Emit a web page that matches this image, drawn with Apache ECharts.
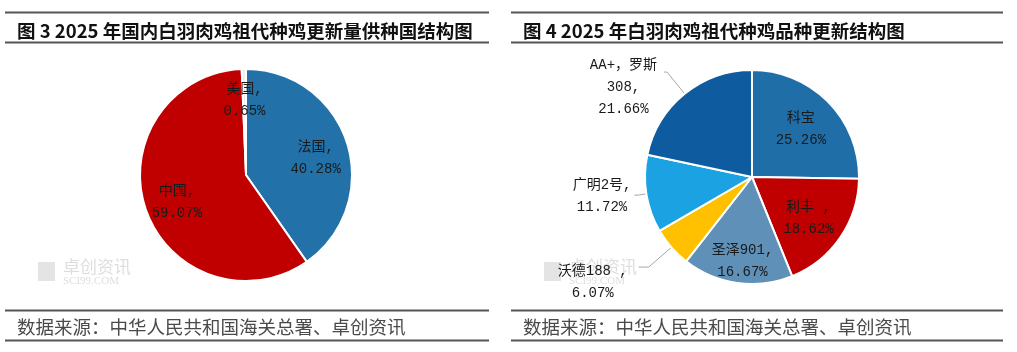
<!DOCTYPE html>
<html><head><meta charset="utf-8">
<script src="https://cdn.jsdelivr.net/npm/echarts@6/dist/echarts.min.js"></script>
<style>html,body{margin:0;padding:0;background:#fff}#c{width:1017px;height:352px}</style>
</head><body><div id="c"></div>
<script>
// ---- data ----
const leftTitle = '图 3 2025 年国内白羽肉鸡祖代种鸡更新量供种国结构图';
const rightTitle = '图 4 2025 年白羽肉鸡祖代种鸡品种更新结构图';
const sourceText = '数据来源：中华人民共和国海关总署、卓创资讯';
const countryNames = ['法国', '中国', '美国'];
const countryShares = [40.28, 59.07, 0.65];
const breedNames = ['科宝', '利丰', '圣泽901', '沃德188', '广明2号', 'AA+，罗斯308'];
const breedLabelNames = ['科宝', '利丰 ,', '圣泽901,', '沃德188 ,', '广明2号,', 'AA+，罗斯\n308,'];
const breedShares = [25.26, 18.62, 16.67, 6.07, 11.72, 21.66];

// ---- styles ----
const FONT = '"Noto Sans CJK SC", "Noto Sans", sans-serif';
const LFONT = '"Liberation Mono", "Noto Sans CJK SC", monospace';
const countryColors = ['#2271a9', '#c00000', '#eeeeee'];
const breedColors = ['#1f6ea8', '#c00000', '#5e90b8', '#ffc000', '#1ba2e2', '#0e5c9f'];
const breedOutside = [false, false, false, true, true, true];
const breedLineLen = [0, 0, 0, 30, 8, 28];
const breedLineLen2 = [0, 0, 0, 10, 4, 3];
const breedOuterDx = [0, 0, 0, -8, 0, -4];
const breedOuterDy = [0, 0, 0, 4, -10, -7];
const breedInnerDy = [0, 3, 16, 0, 0, 0];
const countryInnerDy = [5, 4, -2];
const lineColor = '#555';

const chart = echarts.init(document.getElementById('c'), null, {renderer: 'canvas'});
const pct = v => v.toFixed(2) + '%';

function headerGraphics(x0, x1, title) {
  return [
    {type: 'rect', shape: {x: x0, y: 11.5, width: x1 - x0, height: 2}, style: {fill: lineColor}, silent: true},
    {type: 'rect', shape: {x: x0, y: 41.5, width: x1 - x0, height: 2}, style: {fill: lineColor}, silent: true},
    {type: 'text', x: x0 + 12, y: 31, style: {text: title, font: 'bold 18.5px ' + FONT, fill: '#111', textVerticalAlign: 'middle'}, silent: true},
    {type: 'rect', shape: {x: x0, y: 309.5, width: x1 - x0, height: 2}, style: {fill: lineColor}, silent: true},
    {type: 'rect', shape: {x: x0, y: 339.5, width: x1 - x0, height: 2}, style: {fill: lineColor}, silent: true},
    {type: 'text', x: x0 + 12, y: 327, style: {text: sourceText, font: '18.5px ' + FONT, fill: '#4a4a4a', textVerticalAlign: 'middle'}, silent: true},
    {type: 'text', x: x0 + 58, y: 267, style: {text: '卓创资讯', font: '17px ' + FONT, fill: '#dedede', textVerticalAlign: 'middle'}, silent: true},
    {type: 'text', x: x0 + 58, y: 281, style: {text: 'SCI99.COM', font: '11px "Liberation Serif", serif', fill: '#dedede', textVerticalAlign: 'middle'}, silent: true},
    {type: 'rect', shape: {x: x0 + 33, y: 262, width: 17, height: 19}, style: {fill: '#e4e4e4'}, silent: true}
  ];
}

const labelStyle = {color: '#1a1a1a', fontSize: 14, lineHeight: 22, fontFamily: LFONT};

const leftData = countryNames.map((n, i) => ({name: n, value: countryShares[i]}));
const rightData = breedNames.map((n, i) => ({
  name: n, value: breedShares[i],
  label: {show: breedOutside[i]},
  labelLine: {show: breedOutside[i], length: breedLineLen[i], length2: breedLineLen2[i]}
}));
const rightInner = breedNames.map((n, i) => ({
  name: n, value: breedShares[i],
  label: {show: !breedOutside[i]}
}));

const option = {
  animation: false,
  graphic: [...headerGraphics(5, 489, leftTitle), ...headerGraphics(511, 1003, rightTitle)],
  series: [
    {
      type: 'pie', center: [246, 175], radius: [0, 106], startAngle: 90, clockwise: true,
      color: countryColors, data: leftData, silent: true, z: 2,
      itemStyle: {borderColor: '#fff', borderWidth: 2},
      label: {show: false}, labelLine: {show: false}
    },
    {
      type: 'pie', center: [246, 175], radius: [34, 106], startAngle: 90, clockwise: true,
      data: leftData, silent: true, z: 3,
      itemStyle: {color: 'rgba(0,0,0,0)', borderWidth: 0},
      label: Object.assign({show: true, position: 'inside', formatter: p => p.name + ',\n' + pct(p.value)}, labelStyle),
      labelLine: {show: false},
      labelLayout: p => ({dy: countryInnerDy[p.dataIndex]})
    },
    {
      type: 'pie', center: [752, 177], radius: [0, 107], startAngle: 90, clockwise: true,
      color: breedColors, data: rightData, silent: true, z: 2, avoidLabelOverlap: false,
      itemStyle: {borderColor: '#fff', borderWidth: 2},
      label: Object.assign({position: 'outside', distanceToLabelLine: 3,
        formatter: p => breedLabelNames[p.dataIndex] + '\n' + pct(p.value)}, labelStyle),
      labelLine: {lineStyle: {color: '#a6a6a6', width: 1}},
      labelLayout: p => p.labelRect ? {
        align: 'center', verticalAlign: 'top',
        dx: -p.labelRect.width / 2 + breedOuterDx[p.dataIndex],
        dy: -11 + breedOuterDy[p.dataIndex]
      } : {}
    },
    {
      type: 'pie', center: [752, 177], radius: [24, 107], startAngle: 90, clockwise: true,
      data: rightInner, silent: true, z: 3,
      itemStyle: {color: 'rgba(0,0,0,0)', borderWidth: 0},
      label: Object.assign({position: 'inside', formatter: p => breedLabelNames[p.dataIndex] + '\n' + pct(p.value)}, labelStyle),
      labelLine: {show: false},
      labelLayout: p => ({dy: breedInnerDy[p.dataIndex]})
    }
  ]
};
chart.setOption(option);
</script>
</body></html>
